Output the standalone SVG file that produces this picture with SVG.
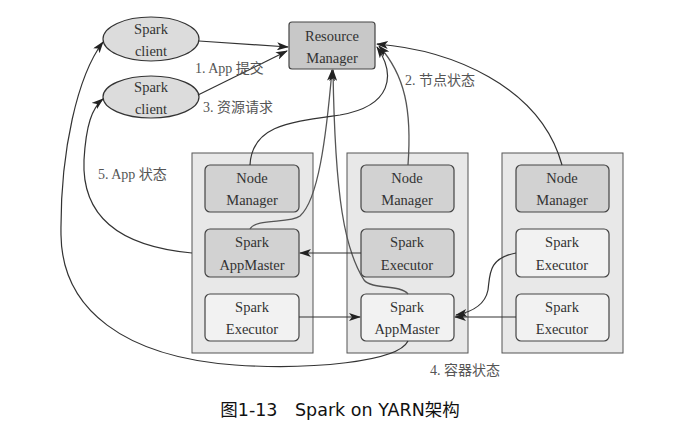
<svg xmlns="http://www.w3.org/2000/svg" width="698" height="431" viewBox="0 0 698 431">
<style>
.t{font-family:"Liberation Serif","DejaVu Serif",serif;font-size:14.5px;fill:#333;text-anchor:middle}
.l{font-family:"Liberation Serif","DejaVu Serif","Noto Sans CJK SC",serif;font-size:14px;fill:#555}
.col{fill:#e8e8e8;stroke:#555;stroke-width:1}
.dk{fill:#d2d2d2;stroke:#444;stroke-width:1.2}
.lt{fill:#f2f2f2;stroke:#444;stroke-width:1.2}
.e{fill:#dcdcdc;stroke:#333;stroke-width:1.2}
.c{fill:none;stroke:#333;stroke-width:1.2;marker-end:url(#a)}
.cg{fill:none;stroke:#555;stroke-width:1.3;marker-end:url(#a)}
</style>
<defs>
<marker id="a" viewBox="0 0 12 8" refX="11" refY="4" markerWidth="12" markerHeight="8" markerUnits="userSpaceOnUse" orient="auto">
<path d="M0,0 L12,4 L0,8 L3,4 Z" fill="#222"/>
</marker>
</defs>
<rect width="698" height="431" fill="#fff"/>
<g id="col1"><rect class="col" x="192" y="153" width="121" height="200"/></g>
<g id="col2"><rect class="col" x="347" y="153" width="121" height="200"/></g>
<g id="col3"><rect class="col" x="502" y="153" width="121" height="200"/></g>
<g id="client1"><ellipse class="e" cx="151" cy="39" rx="48" ry="22"/><text class="t" x="151" y="34">Spark</text><text class="t" x="151" y="56">client</text></g>
<g id="client2"><ellipse class="e" cx="151" cy="97" rx="48" ry="21"/><text class="t" x="151" y="92">Spark</text><text class="t" x="151" y="114">client</text></g>
<g id="rm"><rect x="289" y="22" width="86" height="47" rx="3" fill="#c8c8c8" stroke="#444" stroke-width="1.2"/><text class="t" x="332" y="41">Resource</text><text class="t" x="332" y="63">Manager</text></g>
<g id="nm1"><rect class="dk" x="205" y="165" width="94" height="47" rx="5"/><text class="t" x="252" y="183">Node</text><text class="t" x="252" y="205">Manager</text></g>
<g id="am1"><rect class="dk" x="205" y="229" width="94" height="48" rx="5"/><text class="t" x="252" y="247">Spark</text><text class="t" x="252" y="270">AppMaster</text></g>
<g id="ex1"><rect class="lt" x="205" y="294" width="94" height="47" rx="5"/><text class="t" x="252" y="312">Spark</text><text class="t" x="252" y="334">Executor</text></g>
<g id="nm2"><rect class="dk" x="361" y="165" width="93" height="47" rx="5"/><text class="t" x="407" y="183">Node</text><text class="t" x="407" y="205">Manager</text></g>
<g id="ex2"><rect class="dk" x="361" y="229" width="93" height="48" rx="5"/><text class="t" x="407" y="247">Spark</text><text class="t" x="407" y="270">Executor</text></g>
<g id="am2"><rect class="lt" x="361" y="294" width="93" height="47" rx="5"/><text class="t" x="407" y="312">Spark</text><text class="t" x="407" y="334">AppMaster</text></g>
<g id="nm3"><rect class="dk" x="516" y="165" width="93" height="47" rx="5"/><text class="t" x="562" y="183">Node</text><text class="t" x="562" y="205">Manager</text></g>
<g id="ex3"><rect class="lt" x="516" y="229" width="93" height="48" rx="5"/><text class="t" x="562" y="247">Spark</text><text class="t" x="562" y="270">Executor</text></g>
<g id="ex4"><rect class="lt" x="516" y="294" width="93" height="47" rx="5"/><text class="t" x="562" y="312">Spark</text><text class="t" x="562" y="334">Executor</text></g>
<g id="connectors">
<path class="c" d="M199,41 L288,47"/>
<path class="c" d="M198,95 L287,51"/>
<path class="cg" d="M250,229 C256,218 290,224 300,216 C318,200 326,140 332,70"/>
<path class="cg" d="M408,294 C400,284 372,290 364,280 C345,250 335,200 333,70"/>
<path class="c" d="M250,165 C252,125 290,122 340,115 C392,106 396,75 377,47"/>
<path class="cg" d="M408,165 C412,110 405,75 379,46"/>
<path class="c" d="M562,165 C540,85 450,50 377,44"/>
<path class="c" d="M361,253 L300,253"/>
<path class="c" d="M299,317 L360,317"/>
<path class="c" d="M516,317 L455,317"/>
<path class="c" d="M516,253 C488,258 490,275 488,290 C485,305 472,312 456,315"/>
<path class="c" d="M192,253 C105,245 82,205 84,160 C86,125 92,108 103,99"/>
<path class="c" d="M408,341 C398,362 310,370 235,365 C125,357 62,310 61,235 C60,150 78,75 103,42"/>
</g>
<g id="labels">
<text class="l" x="195" y="73">1. App 提交</text>
<text class="l" x="203" y="112">3. 资源请求</text>
<text class="l" x="405" y="85">2. 节点状态</text>
<text class="l" x="98" y="179">5. App 状态</text>
<text class="l" x="430" y="375">4. 容器状态</text>
</g>
<text x="340" y="416" style="font-family:'DejaVu Sans','Noto Sans CJK SC',sans-serif;font-size:17.5px;fill:#111;text-anchor:middle">图1-13　Spark on YARN架构</text>
</svg>
